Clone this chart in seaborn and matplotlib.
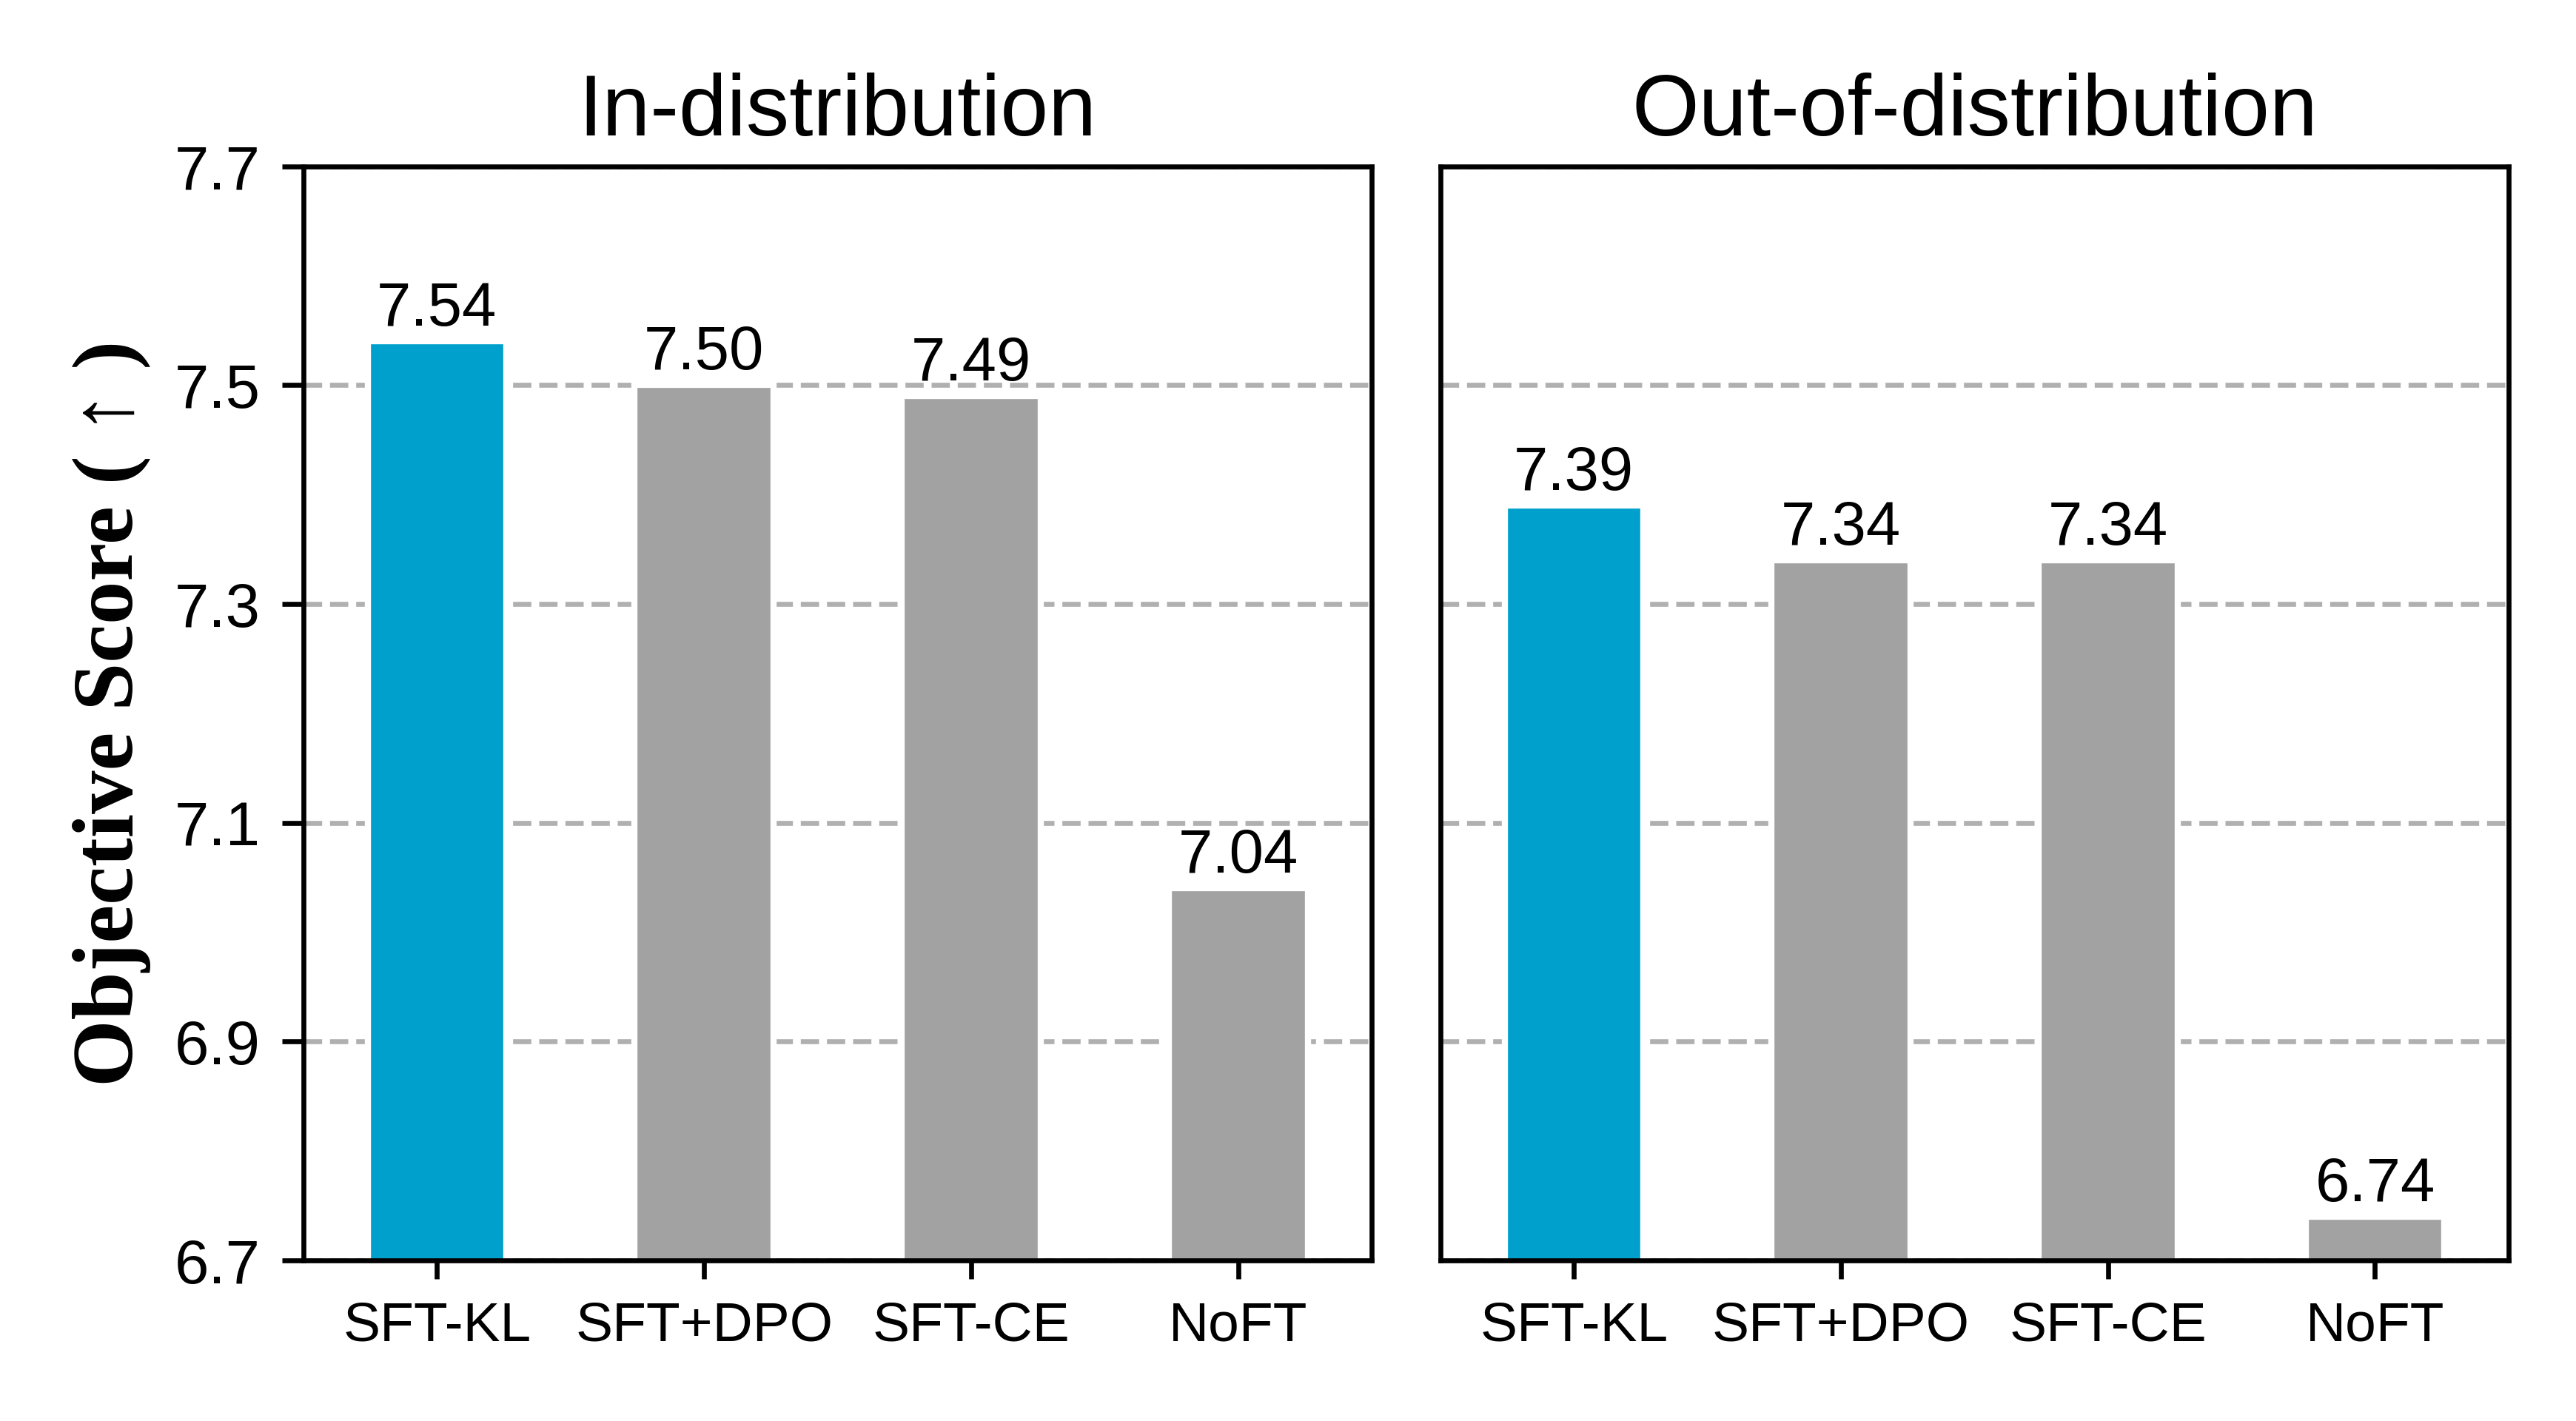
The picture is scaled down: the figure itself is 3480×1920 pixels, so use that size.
import matplotlib
matplotlib.use("Agg")
import matplotlib.pyplot as plt
import seaborn as sns

# Datos
metodos = ["SFT-KL", "SFT+DPO", "SFT-CE", "NoFT"]
in_dist = [7.54, 7.50, 7.49, 7.04]
out_dist = [7.39, 7.34, 7.34, 6.74]
titulos = ["In-distribution", "Out-of-distribution"]
etiquetas = [["7.54", "7.50", "7.49", "7.04"], ["7.39", "7.34", "7.34", "6.74"]]
yticks = [6.7, 6.9, 7.1, 7.3, 7.5, 7.7]

colores = ["#00A0CC", "#A2A2A2", "#A2A2A2", "#A2A2A2"]

sns.set_style("white")
plt.rcParams['font.family'] = ['Liberation Sans', 'DejaVu Sans']
plt.rcParams['axes.linewidth'] = 0.8
plt.rcParams['text.color'] = 'black'
plt.rcParams['axes.labelcolor'] = 'black'
plt.rcParams['xtick.color'] = 'black'
plt.rcParams['ytick.color'] = 'black'

fig = plt.figure(figsize=(5.8, 3.2), dpi=600)
ax1 = fig.add_axes([0.1178, 0.113, 0.4147, 0.770])
ax2 = fig.add_axes([0.5592, 0.113, 0.4146, 0.770])

for i, (ax, vals) in enumerate(zip([ax1, ax2], [in_dist, out_dist])):
    sns.barplot(x=metodos, y=vals, hue=metodos, palette=colores, width=0.52,
                legend=False, ax=ax, saturation=1)
    ax.set_ylim(6.7, 7.7)
    ax.set_yticks(yticks)
    ax.set_axisbelow(True)
    ax.yaxis.grid(True, linestyle='--', color='#B0B0B0', linewidth=0.8)
    ax.set_title(titulos[i], fontsize=14, pad=5, color='black')
    ax.tick_params(axis='x', labelsize=9, length=3, width=0.8, direction='out', bottom=True)
    ax.tick_params(axis='y', labelsize=10, length=3.5, width=0.8, direction='out', left=True)
    for sp in ax.spines.values():
        sp.set_visible(True)
        sp.set_color('black')
        sp.set_linewidth(0.8)
    # con hue hay un contenedor por barra
    for j, cont in enumerate(ax.containers):
        ax.bar_label(cont, labels=[etiquetas[i][j]], fontsize=10, padding=0.5, color='black')
    ax.set_xlabel("")

ax1.set_ylabel("Objective Score ( \u2191 )", fontsize=14, fontweight='bold',
               family=['Liberation Serif', 'DejaVu Sans'], color='black')
ax1.yaxis.set_label_coords(-0.143, 0.5)
ax2.set_ylabel("")
ax2.tick_params(axis='y', left=False, labelleft=False)

fig.savefig("out.png", dpi=600)
